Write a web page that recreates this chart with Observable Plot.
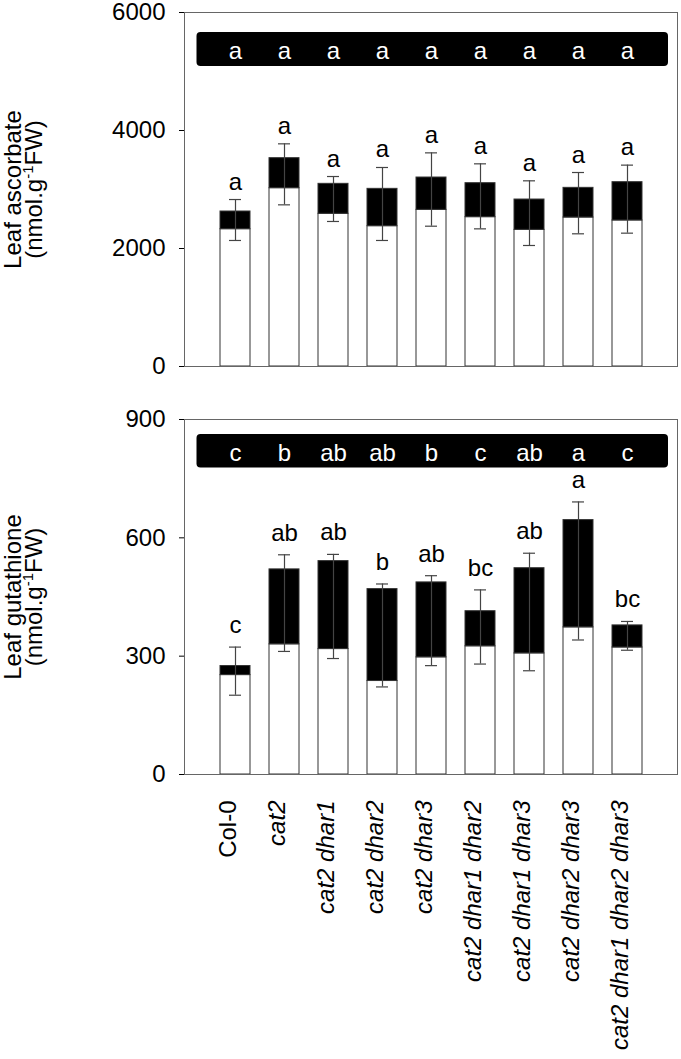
<!DOCTYPE html>
<html><head><meta charset="utf-8">
<script src="https://cdn.jsdelivr.net/npm/d3@7"></script>
<script src="https://cdn.jsdelivr.net/npm/@observablehq/plot@0.6"></script>
<style>body{margin:0;background:#fff}#chart svg{display:block}</style>
</head><body><div id="chart"></div>
<script>
const genotypes = ["Col-0","cat2","cat2 dhar1","cat2 dhar2","cat2 dhar3","cat2 dhar1 dhar2","cat2 dhar1 dhar3","cat2 dhar2 dhar3","cat2 dhar1 dhar2 dhar3"];

// Leaf ascorbate (nmol g-1 FW)
const ascReduced = [2327, 3022, 2588, 2378, 2655, 2531, 2316, 2525, 2475];
const ascTotal   = [2627, 3531, 3096, 3011, 3203, 3107, 2830, 3028, 3124];
const ascErrLow  = [2136, 2740, 2458, 2136, 2378, 2333, 2051, 2249, 2260];
const ascErrHigh = [2830, 3774, 3220, 3373, 3621, 3435, 3147, 3288, 3413];
const ascLetters = ["a","a","a","a","a","a","a","a","a"];
const ascBoxLetters = ["a","a","a","a","a","a","a","a","a"];
const ascTicks = [0, 2000, 4000, 6000];

// Leaf glutathione (nmol g-1 FW)
const gshReduced = [252, 330, 318, 237, 297, 325, 307, 373, 322];
const gshTotal   = [275, 520, 541, 470, 487, 414, 523, 645, 378];
const gshErrLow  = [201, 312, 294, 222, 276, 280, 263, 341, 315];
const gshErrHigh = [323, 557, 558, 483, 504, 468, 561, 691, 388];
const gshLetters = ["c","ab","ab","b","ab","bc","ab","a","bc"];
const gshBoxLetters = ["c","b","ab","ab","b","c","ab","a","c"];
const gshTicks = [0, 300, 600, 900];

const FONT = '"Liberation Sans", Arial, Helvetica, sans-serif';

function rowsOf(red, tot, lo, hi, lab, box) {
  return genotypes.map((g, i) => ({g, reduced: red[i], total: tot[i], lo: lo[i], hi: hi[i], letter: lab[i], box: box[i]}));
}

function panel({rows, height, marginTop, marginBottom, yMax, yTicks, boxLo, boxHi, labelDy, line1, line2, xLabels}) {
  const boxMid = (boxLo + boxHi) / 2;
  const marks = [
    Plot.barY(rows, {x: "g", y1: () => 0, y2: "reduced", fill: "white", stroke: "#333", strokeWidth: 1}),
    Plot.barY(rows, {x: "g", y1: "reduced", y2: "total", fill: "black", stroke: "#333", strokeWidth: 1}),
    Plot.ruleX(rows, {x: "g", y1: "lo", y2: "hi", stroke: "#444", strokeWidth: 1.2}),
    Plot.tickY(rows, {x: "g", y: "lo", stroke: "#444", strokeWidth: 1.2, insetLeft: 9, insetRight: 9}),
    Plot.tickY(rows, {x: "g", y: "hi", stroke: "#444", strokeWidth: 1.2, insetLeft: 9, insetRight: 9}),
    Plot.frame({stroke: "#666", strokeWidth: 1}),
    Plot.rect([0], {y1: () => boxLo, y2: () => boxHi, fill: "black", insetLeft: 12.5, insetRight: 9, rx: 4}),
    Plot.text(rows, {x: "g", y: () => boxMid, text: "box", fill: "white", dy: 2, fontSize: 24}),
    Plot.text(rows, {x: "g", y: "hi", text: "letter", fill: "black", lineAnchor: "bottom", dy: labelDy, fontSize: 24}),
    Plot.text([line1], {frameAnchor: "left", text: d => d, rotate: -90, textAnchor: "middle", dx: -171.5, fontSize: 24, fill: "black"}),
    Plot.text([line2], {frameAnchor: "left", text: d => d, rotate: -90, textAnchor: "middle", dx: -150, fontSize: 24, fill: "black"})
  ];
  if (xLabels) {
    marks.push(Plot.text(rows.filter(d => d.g === "Col-0"), {x: "g", frameAnchor: "bottom", text: "g", rotate: -90, textAnchor: "end", dy: 26, fontSize: 24, fill: "black"}));
    marks.push(Plot.text(rows.filter(d => d.g !== "Col-0"), {x: "g", frameAnchor: "bottom", text: "g", rotate: -90, textAnchor: "end", dy: 26, fontSize: 24, fontStyle: "italic", fill: "black"}));
  }
  const svg = Plot.plot({
    width: 681, height, marginLeft: 184, marginRight: 4, marginTop, marginBottom,
    style: {fontFamily: FONT, fontSize: "24px", background: "white", color: "black", overflow: "visible"},
    x: {domain: genotypes, paddingInner: 0.393, paddingOuter: 0.697, axis: null},
    y: {domain: [0, yMax], ticks: yTicks, tickSize: 5, tickPadding: 14, tickFormat: "d", label: null},
    marks
  });
  d3.select(svg).selectAll("text").filter(function() { return this.textContent === line2; }).each(function() {
    const t = d3.select(this);
    const parts = line2.split("-1");
    t.text(null);
    t.append("tspan").text(parts[0]);
    t.append("tspan").attr("font-size", 15).attr("dy", -9).text("-1");
    t.append("tspan").attr("dy", 9).text(parts[1]);
  });
  return svg;
}

const chart = document.getElementById("chart");
chart.appendChild(panel({
  rows: rowsOf(ascReduced, ascTotal, ascErrLow, ascErrHigh, ascLetters, ascBoxLetters),
  height: 390, marginTop: 12, marginBottom: 24, yMax: 6000, yTicks: ascTicks,
  boxLo: 5085, boxHi: 5661, labelDy: -10,
  line1: "Leaf ascorbate", line2: "(nmol.g-1FW)", xLabels: false
}));
chart.appendChild(panel({
  rows: rowsOf(gshReduced, gshTotal, gshErrLow, gshErrHigh, gshLetters, gshBoxLetters),
  height: 669, marginTop: 29, marginBottom: 285, yMax: 900, yTicks: gshTicks,
  boxLo: 777, boxHi: 862, labelDy: -14,
  line1: "Leaf gutathione", line2: "(nmol.g-1FW)", xLabels: true
}));
</script>
</body></html>
